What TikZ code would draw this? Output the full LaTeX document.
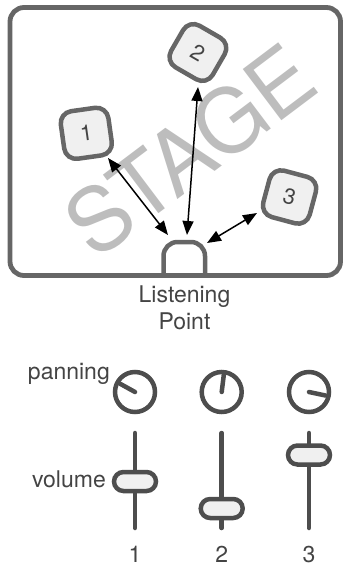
\documentclass[tikz,border=0pt]{standalone}
\usepackage{fontspec}
\setmainfont{TeX Gyre Heros}
\usetikzlibrary{arrows.meta}
\definecolor{edge}{HTML}{666666}
\definecolor{dark}{HTML}{4D4D4D}
\definecolor{txt}{HTML}{444444}
\definecolor{boxfill}{HTML}{F0F0F0}
\definecolor{stagetxt}{HTML}{BDBDBD}
\begin{document}
\begin{tikzpicture}[x=1pt,y=1pt,
  src/.style={draw=edge, fill=boxfill, line width=4.5pt, rounded corners=12pt,
    minimum size=48pt, inner sep=0pt, text=txt, font=\fontsize{22}{22}\selectfont},
  lbl/.style={text=txt, font=\fontsize{23}{27}\selectfont, inner sep=0pt},
  link/.style={line width=1.5pt, {Triangle[length=14pt,width=11pt]}-{Triangle[length=14pt,width=11pt]}},
  knob/.style={draw=dark, line width=4.5pt, circle, minimum size=40pt, inner sep=0pt},
  needle/.style={draw=dark, line width=4.5pt, line cap=round},
  rail/.style={draw=dark, line width=4.5pt, line cap=round},
  handle/.style={draw=dark, fill=boxfill, line width=4.5pt, rounded corners=9.5pt,
    minimum width=42pt, minimum height=19pt, inner sep=0pt},
  stagebox/.style={draw=edge, line width=4.8pt, rounded corners=14pt},
  arch/.style={draw=edge, line width=4.5pt, rounded corners=14pt}
]
\useasboundingbox (0,0) rectangle (345,-568);
% stage
\draw[stagebox] (10,-7.5) rectangle (340.5,-275.5);
\node[text=stagetxt, font=\fontsize{88}{88}\selectfont, rotate=37, inner sep=0pt] (stg) at (190,-150) {STAGE};
% listening point
\draw[arch] (163.5,-275.5) -- (163.5,-242) -- (205,-242) -- (205,-275.5);
\coordinate (lp1) at (168,-235);
\coordinate (lp2) at (187,-235);
\coordinate (lp3) at (207,-243);
\node[lbl, align=center, anchor=north] (lpt) at (184.5,-286) {Listening\\Point};
% sources
\node[src, rotate=8] (b1) at (86.3,-133.3) {1};
\node[src, rotate=-30] (b2) at (197.9,-52.5) {2};
\node[src, rotate=-15] (b3) at (289.6,-197) {3};
\coordinate (s1) at (108,-158);
\coordinate (s2) at (198,-87);
\coordinate (s3) at (257,-213);
\draw[link] (s1) -- (lp1);
\draw[link] (s2) -- (lp2);
\draw[link] (s3) -- (lp3);
% mixer
\node[lbl, anchor=base east] (pan) at (110,-379) {panning};
\node[lbl, anchor=base east] (vol) at (106,-487) {volume};
\node[knob] (k1) at (135,-392) {};
\node[knob] (k2) at (221.7,-392) {};
\node[knob] (k3) at (309,-392) {};
\draw[needle] (k1.center) -- ++(151:17);
\draw[needle] (k2.center) -- ++(83:17);
\draw[needle] (k3.center) -- ++(-12:17);
\draw[rail] (135,-433) -- (135,-528);
\draw[rail] (221.7,-433) -- (221.7,-528);
\draw[rail] (309,-433) -- (309,-528);
\node[handle] (h1) at (135,-481.5) {};
\node[handle] (h2) at (221.7,-508.5) {};
\node[handle] (h3) at (309,-455) {};
\node[lbl, anchor=base] (n1) at (135,-562) {1};
\node[lbl, anchor=base] (n2) at (221.7,-562) {2};
\node[lbl, anchor=base] (n3) at (309,-562) {3};
\end{tikzpicture}
\end{document}
